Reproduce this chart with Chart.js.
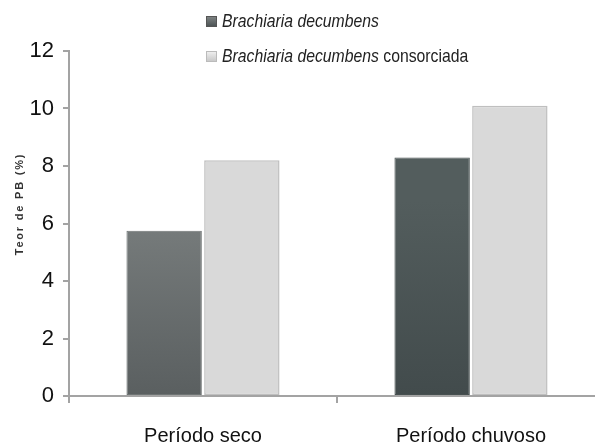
<!DOCTYPE html>
<html>
<head>
<meta charset="utf-8">
<script src="https://cdn.jsdelivr.net/npm/chart.js@4"></script>
<style>
  html, body { margin: 0; padding: 0; background: #fff; overflow: hidden; width: 595px; height: 446px; }
  #wrap { position: relative; width: 605px; height: 446px; }
  #legend { position: absolute; left: 206px; top: 0; font-family: "Liberation Sans", Arial, sans-serif; font-size: 19px; color: #222; }
  .item { position: absolute; left: 0; white-space: nowrap; display: flex; align-items: center; }
  .box { width: 11px; height: 11px; margin-right: 5px; box-sizing: border-box; }
  .txt { display: inline-block; transform: scaleX(0.83); transform-origin: left center; }
  .item i { font-style: italic; }
</style>
</head>
<body>
<div id="wrap">
  <canvas id="chart" width="605" height="446"></canvas>
  <div id="legend"></div>
</div>
<script>
const categories = ['Período seco', 'Período chuvoso'];
const decumbens = [5.75, 8.3];
const consorciada = [8.2, 10.1];
const yTicks = [0, 2, 4, 6, 8, 10, 12];
const yTitle = 'Teor de PB (%)';

const darkTop = ['#7a7f7f', '#535d5d'];
const darkBottom = ['#5a5f60', '#424b4c'];

function darkFill(context) {
    const chart = context.chart;
    const area = chart.chartArea;
    if (!area) return darkBottom[context.dataIndex];
    const g = chart.ctx.createLinearGradient(0, area.top + 150, 0, area.bottom);
    g.addColorStop(0, darkTop[context.dataIndex]);
    g.addColorStop(1, darkBottom[context.dataIndex]);
    return g;
}

const data = {
    labels: categories,
    datasets: [
        {
            label: 'Brachiaria decumbens',
            data: decumbens,
            backgroundColor: darkFill,
            borderColor: ['#6e7373', '#475050'],
            borderWidth: 1,
            borderSkipped: false,
            categoryPercentage: 0.58,
            barPercentage: 0.97
        },
        {
            label: 'Brachiaria decumbens consorciada',
            data: consorciada,
            backgroundColor: '#d9d9d9',
            borderColor: '#bfbfbf',
            borderWidth: 1.5,
            borderSkipped: false,
            categoryPercentage: 0.58,
            barPercentage: 0.97
        }
    ]
};

const axisColor = '#a3a3a3';

// y title drawn by hand: the original has wide letter spacing and sits above centre
const yTitlePlugin = {
    id: 'yTitle',
    afterDraw(chart) {
        const ctx = chart.ctx;
        ctx.save();
        ctx.translate(20, 204);
        ctx.rotate(-Math.PI / 2);
        ctx.font = 'bold 11px "Liberation Sans", Arial, sans-serif';
        ctx.letterSpacing = '1.8px';
        ctx.fillStyle = '#333';
        ctx.textAlign = 'center';
        ctx.textBaseline = 'middle';
        ctx.fillText(yTitle, 0, 0);
        ctx.restore();
    }
};

const config = {
    type: 'bar',
    data: data,
    plugins: [yTitlePlugin],
    options: {
        responsive: false,
        animation: false,
        layout: { padding: { top: 51, left: 0, right: 0, bottom: 0 } },
        plugins: {
            legend: { display: false },
            tooltip: { enabled: false }
        },
        scales: {
            y: {
                min: 0,
                max: 12,
                afterBuildTicks: (scale) => { scale.ticks = yTicks.map(v => ({ value: v })); },
                afterFit: (scale) => { scale.width = 69; },
                ticks: {
                    color: '#111',
                    padding: 9,
                    font: { family: 'Liberation Sans, Arial, sans-serif', size: 22 }
                },
                grid: {
                    drawOnChartArea: false,
                    drawTicks: true,
                    tickLength: 6,
                    color: axisColor,
                    lineWidth: 2
                },
                border: { color: axisColor, width: 2 }
            },
            x: {
                afterFit: (scale) => { scale.height = 50; },
                ticks: {
                    color: '#111',
                    padding: 21,
                    font: { family: 'Liberation Sans, Arial, sans-serif', size: 20 }
                },
                grid: {
                    drawOnChartArea: false,
                    drawTicks: true,
                    tickLength: 7,
                    color: axisColor,
                    lineWidth: 2
                },
                border: { color: axisColor, width: 2 }
            }
        }
    }
};

const chart = new Chart(document.getElementById('chart'), config);

// legend in HTML so the species name can be italic
const legendEl = document.getElementById('legend');
const legendTops = [10, 45];
const boxStyles = [
    'background: linear-gradient(#7d8282, #4e5556); border: 1px solid #555;',
    'background: linear-gradient(#eeeeee, #c9c9c9); border: 1px solid #bbb;'
];
chart.data.datasets.forEach((ds, i) => {
    const item = document.createElement('div');
    item.className = 'item';
    item.style.top = legendTops[i] + 'px';
    const rest = ds.label.replace('Brachiaria decumbens', '');
    item.innerHTML = `<span class="box" style="${boxStyles[i]}"></span><span class="txt"><i>Brachiaria decumbens</i>${rest}</span>`;
    legendEl.appendChild(item);
});
</script>
</body>
</html>
